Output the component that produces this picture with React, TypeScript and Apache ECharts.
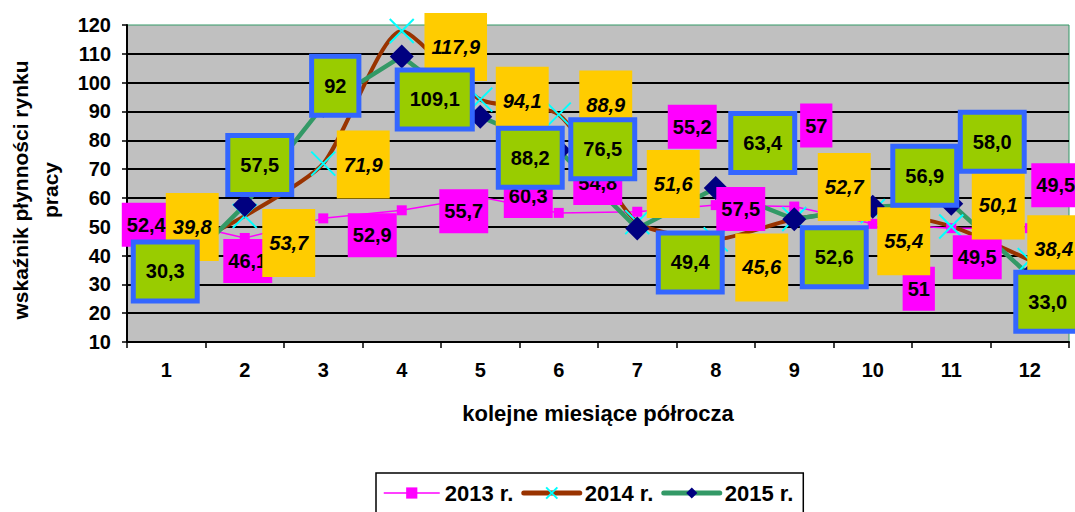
import React, { useEffect, useRef } from "react";
import * as echarts from "echarts";

const categories = ["1", "2", "3", "4", "5", "6", "7", "8", "9", "10", "11", "12"];
const seriesNames = ["2013 r.", "2014 r.", "2015 r."];

const values2013 = [52.4, 46.1, 52.9, 55.7, 60.3, 54.8, 55.2, 57.5, 57, 51, 49.5, 49.5];
const values2014 = [39.8, 53.7, 71.9, 117.9, 94.1, 88.9, 51.6, 45.6, 52.7, 55.4, 50.1, 38.4];
const values2015 = [30.3, 57.5, 92, 109.1, 88.2, 76.5, 49.4, 63.4, 52.6, 56.9, 58.0, 33.0];

const labels2013 = ["52,4", "46,1", "52,9", "55,7", "60,3", "54,8", "55,2", "57,5", "57", "51", "49,5", "49,5"];
const labels2014 = ["39,8", "53,7", "71,9", "117,9", "94,1", "88,9", "51,6", "45,6", "52,7", "55,4", "50,1", "38,4"];
const labels2015 = ["30,3", "57,5", "92", "109,1", "88,2", "76,5", "49,4", "63,4", "52,6", "56,9", "58,0", "33,0"];

const yTicks = { min: 10, max: 120, interval: 10 };

// label placement offsets (px) relative to each point, as in the original
const offsets2013 = [[-20, 5], [3, 23], [49, 17], [62, 1], [48, -1], [39, -30], [55, -85], [25, 4], [22, -81], [46, 65], [26, 29], [26, -43]];
const offsets2014 = [[26, -29], [44, 27], [40, 1], [54, 16], [42, 1], [47, -10], [36, -38], [46, 28], [50, -32], [31, 30], [47, -21], [24, -11]];
const offsets2015 = [[-1, -12], [15, -40], [12, -20], [33, 43], [50, 41], [44, -1], [53, 34], [47, -45], [40, 38], [52, -31], [41, -62], [18, 26]];

const FONT = "Liberation Sans, Arial, Helvetica, sans-serif";

function makeData(values: number[], offsets: number[][]) {
  return values.map((v, i) => ({ value: v, label: { offset: offsets[i] } }));
}

export default function App() {
  const ref = useRef<HTMLDivElement>(null);

  useEffect(() => {
    if (!ref.current) return;
    const chart = echarts.init(ref.current, undefined, { renderer: "svg" });

    const baseLabel = {
      show: true,
      position: "inside",
      color: "#000",
      fontWeight: "bold",
      fontSize: 20,
      lineHeight: 22,
      fontFamily: FONT,
    };

    chart.setOption({
      animation: false,
      backgroundColor: "#ffffff",
      grid: {
        left: 127,
        right: 6,
        top: 25,
        bottom: 170,
        show: true,
        backgroundColor: "#c0c0c0",
        borderColor: "#339966",
        borderWidth: 1,
      },
      xAxis: {
        type: "category",
        data: categories,
        boundaryGap: true,
        axisLine: { show: true, lineStyle: { color: "#000", width: 2 } },
        axisTick: { show: true, length: 6, lineStyle: { color: "#000", width: 1.5 } },
        axisLabel: { color: "#000", fontWeight: "bold", fontSize: 20, fontFamily: FONT, margin: 18 },
        splitLine: { show: false },
      },
      yAxis: {
        type: "value",
        min: yTicks.min,
        max: yTicks.max,
        interval: yTicks.interval,
        axisLine: { show: true, lineStyle: { color: "#000", width: 2 } },
        axisTick: { show: true, length: 5, lineStyle: { color: "#000", width: 1.5 } },
        axisLabel: { color: "#000", fontWeight: "bold", fontSize: 20, fontFamily: FONT, margin: 16 },
        splitLine: { show: true, showMaxLine: false, lineStyle: { color: "#000", width: 2 } },
      },
      legend: {
        data: [
          { name: seriesNames[0], lineStyle: { width: 1.5 } },
          { name: seriesNames[1], lineStyle: { width: 5, cap: "round" } },
          { name: seriesNames[2], lineStyle: { width: 5, cap: "round" } },
        ],
        left: 376,
        top: 473,
        orient: "horizontal",
        borderColor: "#000",
        borderWidth: 1.5,
        padding: [8, 10, 20, 7],
        itemWidth: 56,
        itemHeight: 14,
        itemGap: 8,
        textStyle: { color: "#000", fontWeight: "bold", fontSize: 22, fontFamily: FONT, lineHeight: 24 },
      },
      graphic: [
        {
          type: "text",
          x: 35,
          y: 190,
          rotation: Math.PI / 2,
          style: {
            text: "wskaźnik płynności rynku\npracy",
            align: "center",
            verticalAlign: "middle",
            fontSize: 21,
            fontWeight: "bold",
            fontFamily: FONT,
            lineHeight: 30,
            fill: "#000",
          },
        },
        {
          type: "text",
          x: 598,
          y: 413,
          style: {
            text: "kolejne miesiące półrocza",
            align: "center",
            verticalAlign: "middle",
            fontSize: 22,
            fontWeight: "bold",
            fontFamily: FONT,
            fill: "#000",
          },
        },
      ],
      series: [
        {
          name: seriesNames[0],
          type: "line",
          data: makeData(values2013, offsets2013),
          symbol: "rect",
          symbolSize: 10,
          lineStyle: { color: "#ff00ff", width: 1.5 },
          itemStyle: { color: "#ff00ff" },
          label: {
            ...baseLabel,
            formatter: (p: any) => labels2013[p.dataIndex],
            backgroundColor: "#ff00ff",
            padding: [11, 5],
          },
        },
        {
          name: seriesNames[1],
          type: "line",
          data: makeData(values2014, offsets2014),
          smooth: 0.22,
          symbol: "path://M0,0L10,10M10,0L0,10",
          symbolSize: 24,
          lineStyle: { color: "#993300", width: 4 },
          itemStyle: { color: "#00ffff", borderColor: "#00ffff", borderWidth: 2 },
          label: {
            ...baseLabel,
            fontStyle: "italic",
            formatter: (p: any) => labels2014[p.dataIndex],
            backgroundColor: "#ffcc00",
            padding: [23, 7],
          },
        },
        {
          name: seriesNames[2],
          type: "line",
          data: makeData(values2015, offsets2015),
          symbol: "diamond",
          symbolSize: 24,
          lineStyle: { color: "#339966", width: 4.5 },
          itemStyle: { color: "#000080" },
          label: {
            ...baseLabel,
            formatter: (p: any) => labels2015[p.dataIndex],
            backgroundColor: "#99cc00",
            borderColor: "#3366ff",
            borderWidth: 5,
            padding: [16, 10],
          },
        },
      ],
    });

    return () => chart.dispose();
  }, []);

  return (
    <div
      ref={ref}
      style={{ position: "fixed", left: 0, top: 0, width: 1075, height: 512, background: "#fff" }}
    />
  );
}
